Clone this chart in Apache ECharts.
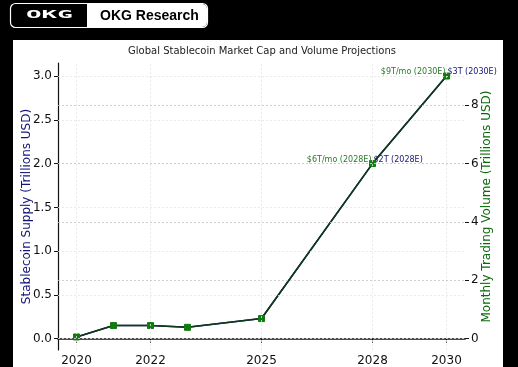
<!DOCTYPE html>
<html><head><meta charset="utf-8">
<script src="https://cdn.jsdelivr.net/npm/echarts@6/dist/echarts.min.js"></script>
<style>html,body{margin:0;padding:0;background:#000}#c{width:518px;height:367px}</style>
</head><body><div id="c"></div>
<script>
const years = [2020, 2021, 2022, 2023, 2025, 2028, 2030];
const supply = [0.02, 0.15, 0.15, 0.13, 0.23, 2.0, 3.0];
const volume = [0.06, 0.45, 0.45, 0.39, 0.69, 6.0, 9.0];
const xTicks = [2020, 2022, 2025, 2028, 2030];
const leftTicks = [0, 0.5, 1.0, 1.5, 2.0, 2.5, 3.0];
const rightTicks = [0, 2, 4, 6, 8];
const supplyNotes = {2028: '$2T (2028E)', 2030: '$3T (2030E)'};
const volumeNotes = {2028: '$6T/mo (2028E)', 2030: '$9T/mo (2030E)'};

const FONT = 'DejaVu Sans';
const NAVY = '#14147a';
const GREEN = '#0a6a0a';

const chart = echarts.init(document.getElementById('c'));

function pts(vals, notes, color, align) {
  return years.map((y, i) => {
    const d = {value: [y, vals[i]]};
    if (notes[y]) {
      d.label = {show: true, formatter: notes[y], position: 'inside', align: align,
        verticalAlign: 'middle', offset: [align === 'right' ? -1 : 1, -4],
        color: color, fontFamily: FONT, fontSize: 8};
    }
    return d;
  });
}

const gridStyleLight = {color: '#e4e4e4', type: [2, 2], width: 0.8};
const gridStyleDark = {color: '#c4c4c4', type: [2, 2], width: 0.8};

chart.setOption({
  backgroundColor: '#000',
  animation: false,
  graphic: [
    {type: 'rect', shape: {x: 13, y: 40, width: 490, height: 330}, style: {fill: '#fff'}, z: -10},
    {type: 'rect', shape: {x: 10.5, y: 3.5, width: 197, height: 24, r: 5}, style: {fill: '#000', stroke: '#fff', lineWidth: 1.2}, z: 5},
    {type: 'rect', shape: {x: 87, y: 4, width: 120, height: 23, r: [0, 5, 5, 0]}, style: {fill: '#fff'}, z: 6},
    {type: 'text', x: 26, y: 15, scaleX: 2.35, z: 7, style: {text: 'OKG', fill: '#fff', font: 'bold 11px "DejaVu Sans Mono"', verticalAlign: 'middle', align: 'left'}},
    {type: 'text', x: 100, y: 16, z: 7, style: {text: 'OKG Research', fill: '#000', font: 'bold 14px "Liberation Sans"', verticalAlign: 'middle', align: 'left'}},
    {type: 'text', x: 262, y: 51, z: 7, style: {text: 'Global Stablecoin Market Cap and Volume Projections', fill: '#222', font: '10px "DejaVu Sans"', align: 'center', verticalAlign: 'middle'}}
  ],
  grid: {left: 58, right: 53, top: 63, bottom: 17, containLabel: false},
  xAxis: {
    type: 'value', min: 2019.5, max: 2030.5,
    axisLine: {show: true, lineStyle: {color: '#111', width: 1.6}},
    axisTick: {show: true, customValues: xTicks, length: 4, lineStyle: {color: '#111'}},
    axisLabel: {customValues: xTicks, color: '#111', fontFamily: FONT, fontSize: 12, margin: 5, formatter: v => String(v)},
    splitLine: {show: false}
  },
  yAxis: [
    {
      type: 'value', min: -0.129, max: 3.149, position: 'left',
      name: 'Stablecoin Supply (Trillions USD)', nameLocation: 'middle', nameGap: 25, nameMoveOverlap: false,
      nameTextStyle: {color: NAVY, fontFamily: FONT, fontSize: 12},
      axisLine: {show: true, lineStyle: {color: '#111', width: 1.2}},
      axisTick: {show: true, customValues: leftTicks, length: 4, lineStyle: {color: '#111'}},
      axisLabel: {customValues: leftTicks, color: '#111', fontFamily: FONT, fontSize: 12, margin: 6, formatter: v => v.toFixed(1)},
      splitLine: {show: false}
    },
    {
      type: 'value', min: -0.387, max: 9.447, position: 'right',
      name: 'Monthly Trading Volume (Trillions USD)', nameLocation: 'middle', nameGap: 16, nameMoveOverlap: false,
      nameTextStyle: {color: GREEN, fontFamily: FONT, fontSize: 12},
      axisLine: {show: false},
      axisTick: {show: true, customValues: rightTicks, length: 4, lineStyle: {color: '#111'}},
      axisLabel: {customValues: rightTicks, color: '#111', fontFamily: FONT, fontSize: 12, margin: 6, formatter: v => String(v)},
      splitLine: {show: false}
    }
  ],
  series: [
    {
      type: 'line', yAxisIndex: 0, data: [], z: 1, silent: true,
      markLine: {silent: true, symbol: 'none', label: {show: false}, lineStyle: gridStyleLight,
        data: leftTicks.map(v => ({yAxis: v})).concat(xTicks.map(v => ({xAxis: v})))}
    },
    {
      type: 'line', yAxisIndex: 1, data: [], z: 1, silent: true,
      markLine: {silent: true, symbol: 'none', label: {show: false}, lineStyle: gridStyleDark,
        data: rightTicks.map(v => ({yAxis: v}))}
    },
    {
      name: 'Supply', type: 'line', yAxisIndex: 0, z: 3,
      data: pts(supply, supplyNotes, NAVY, 'left'),
      symbol: 'circle', symbolSize: 5,
      lineStyle: {color: '#101050', width: 1.6}, itemStyle: {color: NAVY, borderWidth: 0}
    },
    {
      name: 'Volume', type: 'line', yAxisIndex: 1, z: 4,
      data: pts(volume, volumeNotes, '#2a7a2a', 'right'),
      symbol: 'rect', symbolSize: 6,
      lineStyle: {color: '#0d3a1a', width: 1.6},
      itemStyle: {color: '#117a11', borderColor: '#117a11', borderWidth: 1, opacity: 1}
    }
  ]
});
</script></body></html>
